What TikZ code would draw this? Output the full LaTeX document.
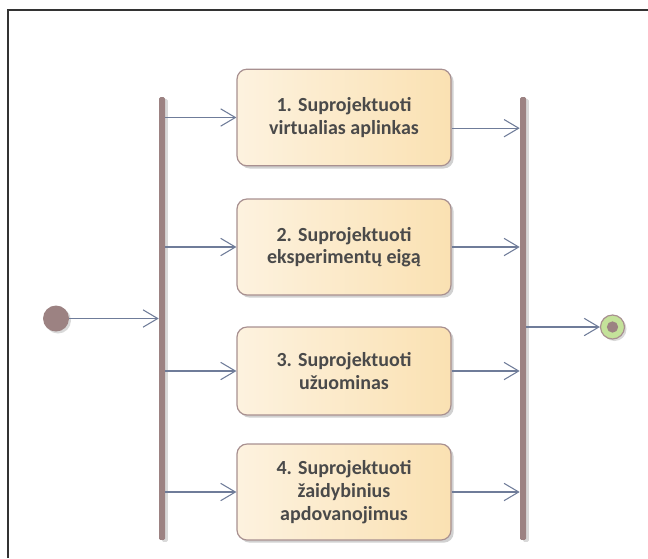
\documentclass[tikz,border=0pt]{standalone}
\usepackage{fontspec}
\setmainfont{Carlito}
\usetikzlibrary{arrows.meta,shadows}
\definecolor{barc}{HTML}{9C8282}
\definecolor{edgec}{HTML}{A89090}
\definecolor{arrc}{HTML}{6F7C99}
\definecolor{txtc}{HTML}{4A4A4A}
\definecolor{boxl}{HTML}{FDF2DF}
\definecolor{boxr}{HTML}{FAE1B2}
\definecolor{fing}{HTML}{C4E29A}
\tikzset{
  px/.style={x=0.75pt,y=-0.75pt},
  actbox/.style={draw=edgec, line width=0.9pt, rounded corners=7.5pt,
    left color=boxl, right color=boxr, shading angle=90,
    minimum width=160.5pt, text=txtc, font=\bfseries\fontsize{15}{17}\selectfont,
    align=center, inner sep=0pt,
    drop shadow={shadow xshift=2pt, shadow yshift=-2pt, fill=black, opacity=0.18}},
  forkbar/.style={fill=barc, draw=none, minimum width=4.5pt, minimum height=332pt,
    inner sep=0pt, rounded corners=1pt,
    drop shadow={shadow xshift=2.2pt, shadow yshift=-1.5pt, fill=black, opacity=0.15}},
  flow/.style={draw=arrc, line width=0.8pt,
    -{Straight Barb[length=11pt,width=13pt,line width=0.8pt]}},
}
\begin{document}
\begin{tikzpicture}[px]
\useasboundingbox (0,0) rectangle (648,558);
\draw[line width=0.9pt, color=black!80] (8,558) -- (8,10) -- (648,10);

\node[forkbar] (fork) at (162,318.5) {};
\node[forkbar] (join) at (523,318.5) {};

\node[circle, fill=barc, minimum size=19.5pt, inner sep=0pt,
  drop shadow={shadow xshift=1.5pt, shadow yshift=-1.5pt, fill=black, opacity=0.15}] (start) at (56,318.5) {};
\node[circle, fill=fing, draw=edgec, line width=0.9pt, minimum size=18pt, inner sep=0pt,
  drop shadow={shadow xshift=1.5pt, shadow yshift=-1.5pt, fill=black, opacity=0.15}] (stop) at (612.5,327) {};
\node[circle, fill=barc, minimum size=8.5pt, inner sep=0pt] (stopdot) at (stop.center) {};

\node[actbox, minimum height=72.5pt] (b1) at (344,117.5) {1. Suprojektuoti\\virtualias aplinkas};
\node[actbox, minimum height=72pt] (b2) at (344,247) {2. Suprojektuoti\\eksperimentų eigą};
\node[actbox, minimum height=66pt] (b3) at (344,371) {3. Suprojektuoti\\užuominas};
\node[actbox, minimum height=72pt] (b4) at (344,492) {4. Suprojektuoti\\žaidybinius\\apdovanojimus};
\coordinate (b1out) at ([yshift=-8pt]b1.east);

\draw[flow] (start.east) -- (fork.west |- start.east);
\draw[flow] (fork.east |- b1.west) -- (b1.west);
\draw[flow] (fork.east |- b2.west) -- (b2.west);
\draw[flow] (fork.east |- b3.west) -- (b3.west);
\draw[flow] (fork.east |- b4.west) -- (b4.west);
\draw[flow] (b1out) -- (join.west |- b1out);
\draw[flow] (b2.east) -- (join.west |- b2.east);
\draw[flow] (b3.east) -- (join.west |- b3.east);
\draw[flow] (b4.east) -- (join.west |- b4.east);
\draw[flow] (join.east |- stop.west) -- (stop.west);
\end{tikzpicture}
\end{document}
